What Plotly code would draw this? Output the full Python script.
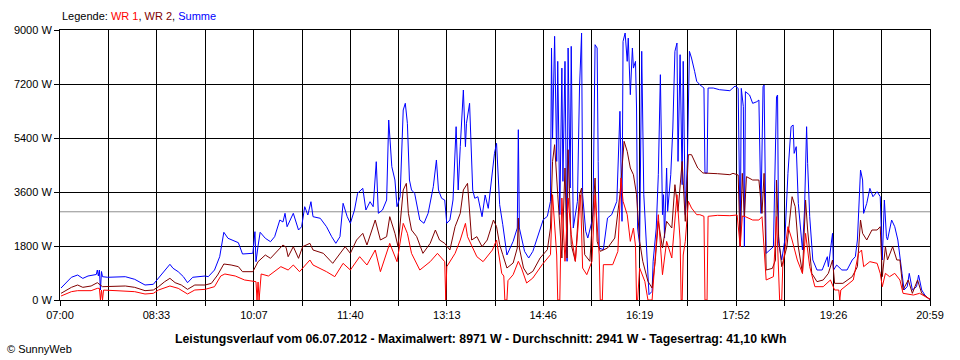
import plotly.graph_objects as go

# ---- data (minutes after 07:00, Watt) ----
TIME_SUMME = [1,11,17,22,27,32,35,36,37,38,39,40,41,46,54,63,72,82,90,95,101,106,109,114,119,123,128,133,140,143,149,154,158,162,167,172,176,181,186,188,189,191,193,198,203,207,212,215,217,219,225,230,233,236,239,242,244,251,257,262,266,270,273,277,280,284,287,292,295,299,302,305,307,311,315,317,320,323,325,328,331,333,335,337,339,342,347,351,355,360,363,365,368,371,373,376,379,382,384,386,389,391,392,395,398,400,403,407,410,413,417,419,421,424,427,431,437,441,442,443,448,452,456,461,466,470,473,474,475,477,479,480,482,484,485,487,489,490,492,493,495,499,501,503,504,507,509,513,514,516,518,519,520,524,528,532,537,540,542,543,545,547,548,550,552,553,555,556,557,559,561,563,566,568,571,572,575,577,579,581,582,583,585,586,589,591,593,595,596,598,600,601,603,605,607,609,612,614,617,621,622,624,625,630,636,646,651,654,656,657,659,660,661,665,668,672,674,676,678,679,681,684,688,691,692,693,696,699,702,705,707,708,710,712,716,718,720,721,723,726,730,735,740,741,745,746,749,754,759,764,767,769,771,772,774,775,778,781,784,788,791,793,795,797,798,802,805,808,812,814,817,819,822,826,828,831,834,837,839]
SUMME = [400,757,833,720,800,833,850,1000,800,1000,333,950,777,757,757,777,690,500,523,723,1000,1190,1057,943,777,577,757,777,800,777,1000,1443,2257,2057,1977,1910,1533,1533,1557,2277,1278,1800,2257,2057,1943,2110,2667,2600,2890,2443,2890,2333,2443,3110,2833,3277,2777,2723,2443,2110,1890,2110,3223,2777,2557,3000,3557,3723,3000,3277,3110,4610,2890,3000,3333,6000,4443,4000,3110,3443,6333,6557,5890,4000,3667,3557,2667,2557,2890,3777,4667,3667,3390,3333,2557,2667,3333,5777,3667,5110,7000,5110,5890,6557,3667,3390,3443,2777,3500,3055,4333,4890,5223,3177,2510,1500,1955,2400,5677,2400,1622,1400,1622,2178,2677,2790,3290,8400,5400,8790,4620,7955,2844,7730,3955,7955,1290,8400,3733,8455,2400,3290,7066,8900,3510,2290,2066,2622,2844,8510,8400,4620,1733,1678,2733,2844,3290,6290,2622,8620,8900,7955,8730,6844,8400,7730,7955,6400,2400,1844,8290,3510,1511,178,290,1290,2400,4177,7510,2844,3510,2066,4400,2955,4177,5733,8290,8566,4620,8177,3844,7955,2844,4620,8290,8066,7622,7290,7177,7066,4233,4233,7066,7066,7010,6977,7133,7055,1778,7055,6444,1778,6944,6833,6555,6610,6666,2888,7110,7166,1555,1666,1778,6777,6833,1889,1333,2000,4222,5777,5833,4888,5111,3222,1666,3000,5777,4555,2777,1333,1000,1000,1444,1111,2222,1000,1166,1000,1000,1333,1444,2000,4000,4333,4000,2888,3222,3722,3444,3611,3444,1333,3333,2111,2000,2666,2444,2000,888,333,444,888,333,444,833,333,166,55,20]

TIME_WR2 = [1,11,17,22,30,36,41,54,63,72,82,90,95,101,106,111,117,123,130,140,146,152,158,165,172,176,186,191,198,203,210,215,218,220,225,230,234,241,244,254,263,270,275,280,286,292,296,304,309,315,318,323,326,331,334,336,339,344,350,357,362,366,371,376,381,386,389,393,397,402,407,412,418,421,424,427,431,437,441,442,443,447,451,456,463,470,473,475,477,480,484,487,489,490,493,497,501,503,506,511,516,518,521,528,535,540,544,547,550,553,556,559,562,567,571,574,577,581,585,590,593,596,600,603,606,609,612,615,620,624,634,646,649,654,656,658,660,662,668,674,677,679,681,687,690,691,693,696,701,706,709,712,716,719,721,725,730,736,741,745,747,755,764,769,772,774,778,783,788,791,793,796,798,803,807,810,813,818,822,827,831,839]
WR2 = [222,422,500,422,467,578,444,444,467,422,311,333,444,611,722,578,500,355,500,500,555,833,1200,1167,1111,944,944,1278,1500,1389,1667,1833,1756,1444,1778,1389,1778,1889,1667,1555,1222,1555,1778,1555,2000,2222,1833,2667,2000,2111,2778,2222,1778,3667,3889,2889,2333,2111,1555,1889,2333,2000,1889,1667,2444,2889,3667,3889,2000,2111,1778,2000,2667,2444,1844,1511,1066,1233,1733,2733,1733,1066,844,955,1400,1678,2400,4620,5177,3510,1400,4400,1400,5010,1844,1290,3510,3733,1511,1290,4066,1955,1622,1733,2066,3510,5290,4955,4400,4177,3510,1955,1290,622,400,1290,2622,1733,2622,2400,3844,2955,4620,2622,4844,4844,4620,4400,4233,4233,4210,4177,4222,4166,1778,4222,2777,4111,4000,4000,2888,4222,1000,1055,1333,4000,2111,1111,1778,3444,3111,1778,889,3333,2333,889,611,667,889,1333,555,555,778,1111,2666,2222,2000,2333,2333,2444,778,1778,1333,1778,1333,1333,333,667,222,667,222,22]

TIME_WR1 = [1,11,17,30,36,38,39,40,41,42,54,72,82,90,95,106,114,123,130,140,149,155,159,169,178,186,189,190,191,192,194,201,207,213,220,225,231,241,244,257,265,273,280,289,296,304,309,318,325,331,335,339,347,357,364,371,372,373,381,386,391,393,402,408,417,421,426,428,429,431,432,437,442,445,450,456,465,473,475,478,479,480,482,483,484,487,490,493,497,502,504,508,513,516,519,520,521,523,524,533,538,541,543,547,550,553,555,556,557,559,564,567,571,574,577,581,585,590,595,598,599,600,601,603,606,609,614,617,621,622,624,625,634,646,653,656,658,661,668,674,677,681,688,691,694,696,697,702,706,711,716,719,723,728,736,743,747,751,752,753,757,765,770,773,775,781,788,791,793,796,800,805,810,813,823,829,839]
WR1 = [133,278,311,311,389,389,0,330,0,330,311,278,200,222,333,467,389,200,333,355,444,800,867,800,667,611,611,0,600,0,867,800,944,1111,1000,1167,944,1333,1167,944,778,1222,1000,1444,1167,1667,944,1889,1278,2555,2222,1555,1000,1278,1555,1278,0,1111,1555,2000,2555,2111,1444,1278,1667,2000,889,800,0,0,644,844,1290,1066,566,733,1178,1511,3510,1844,1500,0,0,2000,3400,1290,3400,2178,1290,3510,1066,844,1290,3510,1733,1500,0,0,1178,1178,1622,4066,3290,2844,1955,2400,1800,0,0,1066,622,0,0,1290,2844,844,1955,1400,3510,2000,0,0,1500,1955,3290,3066,2844,2844,2790,0,0,2790,2822,2810,2833,1778,2800,2777,2666,2666,2777,667,778,2777,0,0,1111,2444,2000,1333,889,2222,1111,444,444,667,333,333,0,333,444,667,1555,1666,1111,1278,1222,889,444,889,778,889,667,222,166,222,22]

X_TICK_LABELS = ["07:00", "08:33", "10:07", "11:40", "13:13", "14:46", "16:19", "17:52", "19:26", "20:59"]
Y_TICKS = [0, 1800, 3600, 5400, 7200, 9000]
AVERAGE_W = 2941
TITLE = "Leistungsverlauf vom 06.07.2012 - Maximalwert: 8971 W - Durchschnitt: 2941 W - Tagesertrag: 41,10 kWh"

FONT = "Liberation Sans, Arial, sans-serif"


def to_min(s):
    h, m = s.split(":")
    return (int(h) - 7) * 60 + int(m)


label_pos = [to_min(s) for s in X_TICK_LABELS]
tickvals, ticktext = [], []
for i, p in enumerate(label_pos):
    tickvals.append(p)
    ticktext.append(X_TICK_LABELS[i])
    if i < len(label_pos) - 1:
        tickvals.append((p + label_pos[i + 1]) / 2)
        ticktext.append("")

fig = go.Figure()
fig.add_trace(go.Scatter(x=TIME_SUMME, y=SUMME, mode="lines", name="Summe",
                         line=dict(color="#0000FF", width=1)))
fig.add_trace(go.Scatter(x=TIME_WR2, y=WR2, mode="lines", name="WR 2",
                         line=dict(color="#800000", width=1)))
fig.add_trace(go.Scatter(x=TIME_WR1, y=WR1, mode="lines", name="WR 1",
                         line=dict(color="#FF0000", width=1)))

fig.add_shape(type="line", xref="paper", x0=0, x1=1, yref="y", y0=AVERAGE_W, y1=AVERAGE_W,
              line=dict(color="#909090", width=1), layer="below")

PLOT_L, PLOT_R, PLOT_T, PLOT_B = 60, 930, 30, 300
W, H = 960, 360


def px(x):
    return (x - PLOT_L) / (PLOT_R - PLOT_L)


def py(y):
    return (PLOT_B - y) / (PLOT_B - PLOT_T)


fig.update_layout(
    width=W, height=H,
    margin=dict(l=PLOT_L, r=W - PLOT_R, t=PLOT_T, b=H - PLOT_B, autoexpand=False),
    paper_bgcolor="white", plot_bgcolor="white",
    showlegend=False,
    font=dict(family=FONT, size=11, color="black"),
    xaxis=dict(range=[0, label_pos[-1]], tickvals=tickvals, ticktext=ticktext,
               showgrid=True, gridcolor="black", gridwidth=1,
               showline=True, linecolor="black", linewidth=1, mirror=True,
               ticks="outside", ticklen=5, tickcolor="black", zeroline=False,
               fixedrange=True),
    yaxis=dict(range=[0, 9000], tickvals=Y_TICKS, ticktext=[f"{v} W" for v in Y_TICKS],
               showgrid=True, gridcolor="black", gridwidth=1,
               showline=True, linecolor="black", linewidth=1, mirror=True,
               ticks="outside", ticklen=5, tickcolor="black", zeroline=False,
               fixedrange=True),
    annotations=[
        dict(xref="paper", yref="paper", x=px(60), y=py(16), xanchor="left", yanchor="middle",
             showarrow=False,
             text="Legende: <span style='color:#FF0000'>WR 1</span>, "
                  "<span style='color:#800000'>WR 2</span>, "
                  "<span style='color:#0000FF'>Summe</span>",
             font=dict(size=11)),
        dict(xref="paper", yref="paper", x=px(480), y=py(339),
             xanchor="center", yanchor="middle", showarrow=False,
             text="<b>" + TITLE + "</b>", font=dict(size=12.3)),
        dict(xref="paper", yref="paper", x=px(5), y=py(349),
             xanchor="left", yanchor="middle", showarrow=False,
             text="© SunnyWeb", font=dict(size=11)),
    ],
)

fig.write_html("out.html", config={"displayModeBar": False},
               post_script="document.body.style.margin='0';document.body.style.overflow='hidden';")
